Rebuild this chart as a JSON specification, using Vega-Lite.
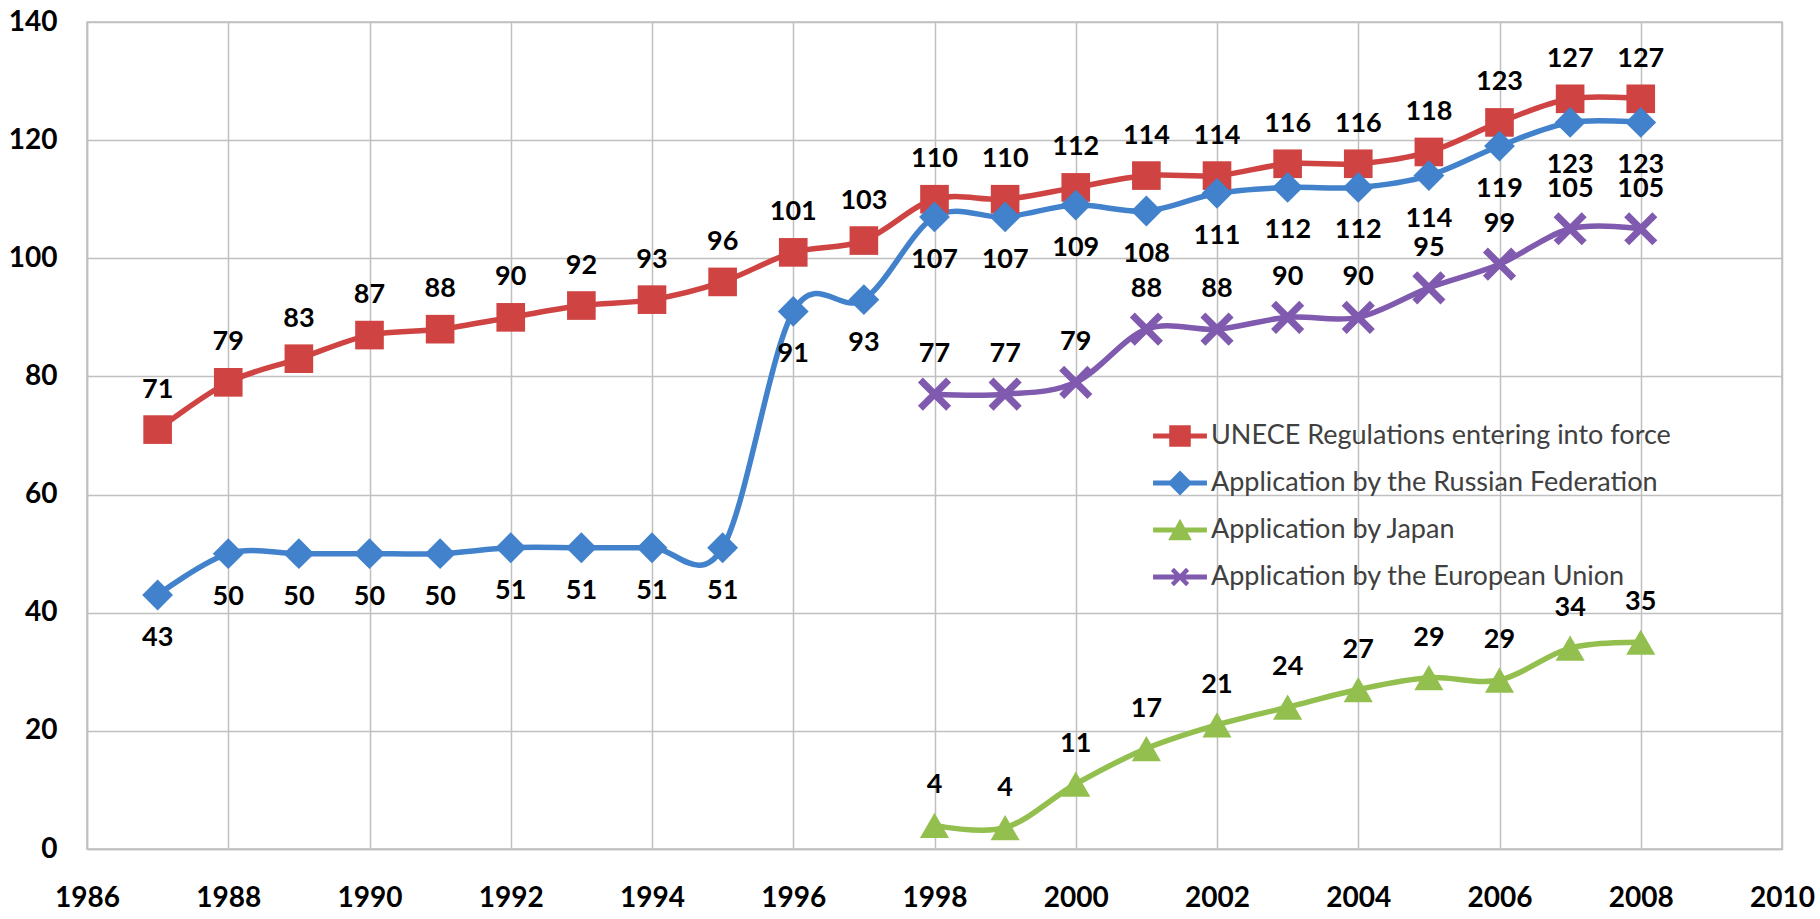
{
  "$schema": "https://vega.github.io/schema/vega-lite/v6.json",
  "autosize": {"type": "none"},
  "width": 1695,
  "height": 827,
  "padding": {"left": 87, "top": 22, "right": 38, "bottom": 70},
  "background": "white",
  "config": {
    "view": {"stroke": "#c0c0c0", "strokeWidth": 1.5},
    "font": "Lato"
  },
  "data": {"values": [
    {"year": 1987, "series": "UNECE Regulations entering into force", "value": 71, "pos": "above"},
    {"year": 1988, "series": "UNECE Regulations entering into force", "value": 79, "pos": "above"},
    {"year": 1989, "series": "UNECE Regulations entering into force", "value": 83, "pos": "above"},
    {"year": 1990, "series": "UNECE Regulations entering into force", "value": 87, "pos": "above"},
    {"year": 1991, "series": "UNECE Regulations entering into force", "value": 88, "pos": "above"},
    {"year": 1992, "series": "UNECE Regulations entering into force", "value": 90, "pos": "above"},
    {"year": 1993, "series": "UNECE Regulations entering into force", "value": 92, "pos": "above"},
    {"year": 1994, "series": "UNECE Regulations entering into force", "value": 93, "pos": "above"},
    {"year": 1995, "series": "UNECE Regulations entering into force", "value": 96, "pos": "above"},
    {"year": 1996, "series": "UNECE Regulations entering into force", "value": 101, "pos": "above"},
    {"year": 1997, "series": "UNECE Regulations entering into force", "value": 103, "pos": "above"},
    {"year": 1998, "series": "UNECE Regulations entering into force", "value": 110, "pos": "above"},
    {"year": 1999, "series": "UNECE Regulations entering into force", "value": 110, "pos": "above"},
    {"year": 2000, "series": "UNECE Regulations entering into force", "value": 112, "pos": "above"},
    {"year": 2001, "series": "UNECE Regulations entering into force", "value": 114, "pos": "above"},
    {"year": 2002, "series": "UNECE Regulations entering into force", "value": 114, "pos": "above"},
    {"year": 2003, "series": "UNECE Regulations entering into force", "value": 116, "pos": "above"},
    {"year": 2004, "series": "UNECE Regulations entering into force", "value": 116, "pos": "above"},
    {"year": 2005, "series": "UNECE Regulations entering into force", "value": 118, "pos": "above"},
    {"year": 2006, "series": "UNECE Regulations entering into force", "value": 123, "pos": "above"},
    {"year": 2007, "series": "UNECE Regulations entering into force", "value": 127, "pos": "above"},
    {"year": 2008, "series": "UNECE Regulations entering into force", "value": 127, "pos": "above"},
    {"year": 1987, "series": "Application by the Russian Federation", "value": 43, "pos": "below"},
    {"year": 1988, "series": "Application by the Russian Federation", "value": 50, "pos": "below"},
    {"year": 1989, "series": "Application by the Russian Federation", "value": 50, "pos": "below"},
    {"year": 1990, "series": "Application by the Russian Federation", "value": 50, "pos": "below"},
    {"year": 1991, "series": "Application by the Russian Federation", "value": 50, "pos": "below"},
    {"year": 1992, "series": "Application by the Russian Federation", "value": 51, "pos": "below"},
    {"year": 1993, "series": "Application by the Russian Federation", "value": 51, "pos": "below"},
    {"year": 1994, "series": "Application by the Russian Federation", "value": 51, "pos": "below"},
    {"year": 1995, "series": "Application by the Russian Federation", "value": 51, "pos": "below"},
    {"year": 1996, "series": "Application by the Russian Federation", "value": 91, "pos": "below"},
    {"year": 1997, "series": "Application by the Russian Federation", "value": 93, "pos": "below"},
    {"year": 1998, "series": "Application by the Russian Federation", "value": 107, "pos": "below"},
    {"year": 1999, "series": "Application by the Russian Federation", "value": 107, "pos": "below"},
    {"year": 2000, "series": "Application by the Russian Federation", "value": 109, "pos": "below"},
    {"year": 2001, "series": "Application by the Russian Federation", "value": 108, "pos": "below"},
    {"year": 2002, "series": "Application by the Russian Federation", "value": 111, "pos": "below"},
    {"year": 2003, "series": "Application by the Russian Federation", "value": 112, "pos": "below"},
    {"year": 2004, "series": "Application by the Russian Federation", "value": 112, "pos": "below"},
    {"year": 2005, "series": "Application by the Russian Federation", "value": 114, "pos": "below"},
    {"year": 2006, "series": "Application by the Russian Federation", "value": 119, "pos": "below"},
    {"year": 2007, "series": "Application by the Russian Federation", "value": 123, "pos": "below"},
    {"year": 2008, "series": "Application by the Russian Federation", "value": 123, "pos": "below"},
    {"year": 1998, "series": "Application by Japan", "value": 4, "pos": "above"},
    {"year": 1999, "series": "Application by Japan", "value": 3.6, "pos": "above"},
    {"year": 2000, "series": "Application by Japan", "value": 11, "pos": "above"},
    {"year": 2001, "series": "Application by Japan", "value": 17, "pos": "above"},
    {"year": 2002, "series": "Application by Japan", "value": 21, "pos": "above"},
    {"year": 2003, "series": "Application by Japan", "value": 24, "pos": "above"},
    {"year": 2004, "series": "Application by Japan", "value": 27, "pos": "above"},
    {"year": 2005, "series": "Application by Japan", "value": 29, "pos": "above"},
    {"year": 2006, "series": "Application by Japan", "value": 28.6, "pos": "above"},
    {"year": 2007, "series": "Application by Japan", "value": 34, "pos": "above"},
    {"year": 2008, "series": "Application by Japan", "value": 35, "pos": "above"},
    {"year": 1998, "series": "Application by the European Union", "value": 77, "pos": "above"},
    {"year": 1999, "series": "Application by the European Union", "value": 77, "pos": "above"},
    {"year": 2000, "series": "Application by the European Union", "value": 79, "pos": "above"},
    {"year": 2001, "series": "Application by the European Union", "value": 88, "pos": "above"},
    {"year": 2002, "series": "Application by the European Union", "value": 88, "pos": "above"},
    {"year": 2003, "series": "Application by the European Union", "value": 90, "pos": "above"},
    {"year": 2004, "series": "Application by the European Union", "value": 90, "pos": "above"},
    {"year": 2005, "series": "Application by the European Union", "value": 95, "pos": "above"},
    {"year": 2006, "series": "Application by the European Union", "value": 99, "pos": "above"},
    {"year": 2007, "series": "Application by the European Union", "value": 105, "pos": "above"},
    {"year": 2008, "series": "Application by the European Union", "value": 105, "pos": "above"}
  ]},
  "encoding": {
    "x": {
      "field": "year", "type": "quantitative",
      "scale": {"domain": [1986, 2010], "nice": false, "zero": false},
      "axis": {
        "title": null, "values": [1986,1988,1990,1992,1994,1996,1998,2000,2002,2004,2006,2008,2010],
        "format": "d", "ticks": false, "labelPadding": 35,
        "labelFont": "Lato", "labelFontSize": 28, "labelFontWeight": "bold", "labelColor": "#000000",
        "grid": true, "gridColor": "#c0c0c0", "gridWidth": 1.5,
        "domainColor": "#c0c0c0", "domainWidth": 1.5, "labelFlush": false
      }
    },
    "y": {
      "field": "value", "type": "quantitative",
      "scale": {"domain": [0, 140], "nice": false},
      "axis": {
        "title": null, "values": [0,20,40,60,80,100,120,140],
        "ticks": false, "labelPadding": 30,
        "labelFont": "Lato", "labelFontSize": 28, "labelFontWeight": "bold", "labelColor": "#000000",
        "grid": true, "gridColor": "#c0c0c0", "gridWidth": 1.5,
        "domainColor": "#c0c0c0", "domainWidth": 1.5
      }
    }
  },
  "layer": [
    {
      "mark": {"type": "line", "interpolate": "cardinal", "strokeWidth": 5.5},
      "encoding": {
        "color": {"field": "series", "type": "nominal",
          "scale": {"domain": ["UNECE Regulations entering into force", "Application by the Russian Federation", "Application by Japan", "Application by the European Union"],
                    "range": ["#CF4343", "#4282CC", "#93BF4F", "#7F5AAE"]}}
      }
    },
    {
      "transform": [{"filter": "datum.series == 'UNECE Regulations entering into force'"}],
      "mark": {"type": "point", "shape": "square", "filled": true, "opacity": 1, "size": 820},
      "encoding": {"color": {"field": "series", "type": "nominal"}}
    },
    {
      "transform": [{"filter": "datum.series == 'Application by the Russian Federation'"}],
      "mark": {"type": "point", "shape": "diamond", "filled": true, "opacity": 1, "size": 950},
      "encoding": {"color": {"field": "series", "type": "nominal"}}
    },
    {
      "transform": [{"filter": "datum.series == 'Application by Japan'"}],
      "mark": {"type": "point", "shape": "triangle-up", "filled": true, "opacity": 1, "size": 850},
      "encoding": {"color": {"field": "series", "type": "nominal"}}
    },
    {
      "transform": [{"filter": "datum.series == 'Application by the European Union'"}],
      "mark": {"type": "point", "shape": "M-1,-1L1,1M-1,1L1,-1", "filled": false, "opacity": 1, "size": 540, "strokeWidth": 7, "strokeCap": "square"},
      "encoding": {"color": {"field": "series", "type": "nominal"}}
    },
    {
      "transform": [{"filter": "datum.value < 0"}],
      "mark": {"type": "point", "filled": true, "opacity": 1},
      "encoding": {
        "color": {"field": "series", "type": "nominal",
          "legend": {
            "title": null, "orient": "none", "legendX": 1066, "legendY": 387,
            "symbolSize": 2900, "symbolStrokeWidth": 0, "symbolOpacity": 1,
            "labelFont": "Lato", "labelFontSize": 27, "labelColor": "#404040",
            "labelOffset": 4, "rowPadding": 7, "labelLimit": 700
          }},
        "shape": {"field": "series", "type": "nominal",
          "scale": {"domain": ["UNECE Regulations entering into force", "Application by the Russian Federation", "Application by Japan", "Application by the European Union"],
                    "range": [
                      "M-1,-0.09L1,-0.09L1,0.09L-1,0.09Z M-0.4,-0.4L0.4,-0.4L0.4,0.4L-0.4,0.4Z",
                      "M-1,-0.09L1,-0.09L1,0.09L-1,0.09Z M0,-0.46L0.46,0L0,0.46L-0.46,0Z",
                      "M-1,-0.09L1,-0.09L1,0.09L-1,0.09Z M0,-0.42L0.44,0.38L-0.44,0.38Z",
                      "M-1,-0.09L1,-0.09L1,0.09L-1,0.09Z M0.226,-0.339L0.339,-0.226L0.113,0L0.339,0.226L0.226,0.339L0,0.113L-0.226,0.339L-0.339,0.226L-0.113,0L-0.339,-0.226L-0.226,-0.339L0,-0.113Z"
                    ]},
          "legend": {
            "title": null, "orient": "none", "legendX": 1066, "legendY": 387,
            "symbolSize": 2900, "symbolStrokeWidth": 0, "symbolOpacity": 1,
            "labelFont": "Lato", "labelFontSize": 27, "labelColor": "#404040",
            "labelOffset": 4, "rowPadding": 7, "labelLimit": 700
          }}
      }
    },
    {
      "transform": [{"filter": "datum.pos == 'above'"}],
      "mark": {"type": "text", "dy": -40, "font": "Lato", "fontSize": 27, "fontWeight": "bold", "color": "#000000"},
      "encoding": {"text": {"field": "value", "type": "quantitative", "format": ".0f"}}
    },
    {
      "transform": [{"filter": "datum.pos == 'below'"}],
      "mark": {"type": "text", "dy": 43, "font": "Lato", "fontSize": 27, "fontWeight": "bold", "color": "#000000"},
      "encoding": {"text": {"field": "value", "type": "quantitative", "format": ".0f"}}
    }
  ]
}
